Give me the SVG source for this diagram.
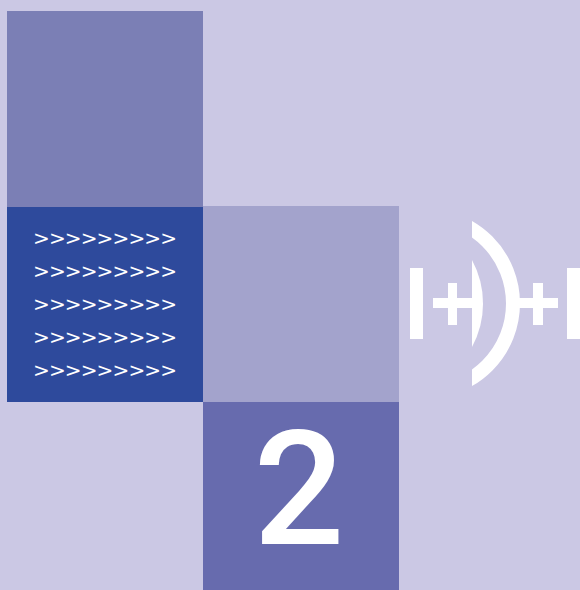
<svg xmlns="http://www.w3.org/2000/svg" width="580" height="590" viewBox="0 0 580 590">
<style>
.w{fill:#ffffff}
.arrows{font-family:"DejaVu Sans",sans-serif;font-size:20px;fill:#ffffff}
.num{font-family:Roboto,"Liberation Sans",sans-serif;font-size:160px;font-weight:500;fill:#ffffff}
</style>
<defs>
<clipPath id="rightOf"><rect x="472" y="0" width="108" height="590"/></clipPath>
</defs>
<rect width="580" height="590" fill="#cbc8e4"/>
<g id="top-square"><rect x="7" y="11" width="196" height="196" fill="#7b7fb5"/></g>
<g id="middle-square"><rect x="203" y="206" width="196" height="196" fill="#a3a3cc"/></g>
<g id="arrows-square">
<rect x="7" y="207" width="196" height="195" fill="#2e4a9c"/>
<text class="arrows" x="33" y="245" textLength="144" lengthAdjust="spacing">&gt;&gt;&gt;&gt;&gt;&gt;&gt;&gt;&gt;</text>
<text class="arrows" x="33" y="278" textLength="144" lengthAdjust="spacing">&gt;&gt;&gt;&gt;&gt;&gt;&gt;&gt;&gt;</text>
<text class="arrows" x="33" y="311" textLength="144" lengthAdjust="spacing">&gt;&gt;&gt;&gt;&gt;&gt;&gt;&gt;&gt;</text>
<text class="arrows" x="33" y="344" textLength="144" lengthAdjust="spacing">&gt;&gt;&gt;&gt;&gt;&gt;&gt;&gt;&gt;</text>
<text class="arrows" x="33" y="377" textLength="144" lengthAdjust="spacing">&gt;&gt;&gt;&gt;&gt;&gt;&gt;&gt;&gt;</text>
</g>
<g id="number-square">
<rect x="203" y="402" width="196" height="188" fill="#676bae"/>
<text class="num" x="299" y="544" text-anchor="middle">2</text>
</g>
<g id="lens-symbol">
<rect class="w" x="410" y="268" width="13" height="71"/>
<rect class="w" x="433" y="298" width="39" height="10"/>
<rect class="w" x="448" y="283" width="9" height="42"/>
<path class="w" d="M472,260 A91.5,91.5 0 0 1 472,347 Z"/>
<circle cx="425" cy="303.5" r="88" fill="none" stroke="#ffffff" stroke-width="14" clip-path="url(#rightOf)"/>
<rect class="w" x="518" y="298" width="40" height="10"/>
<rect class="w" x="533" y="283" width="10" height="42"/>
<rect class="w" x="567" y="268" width="13" height="71"/>
</g>
</svg>
